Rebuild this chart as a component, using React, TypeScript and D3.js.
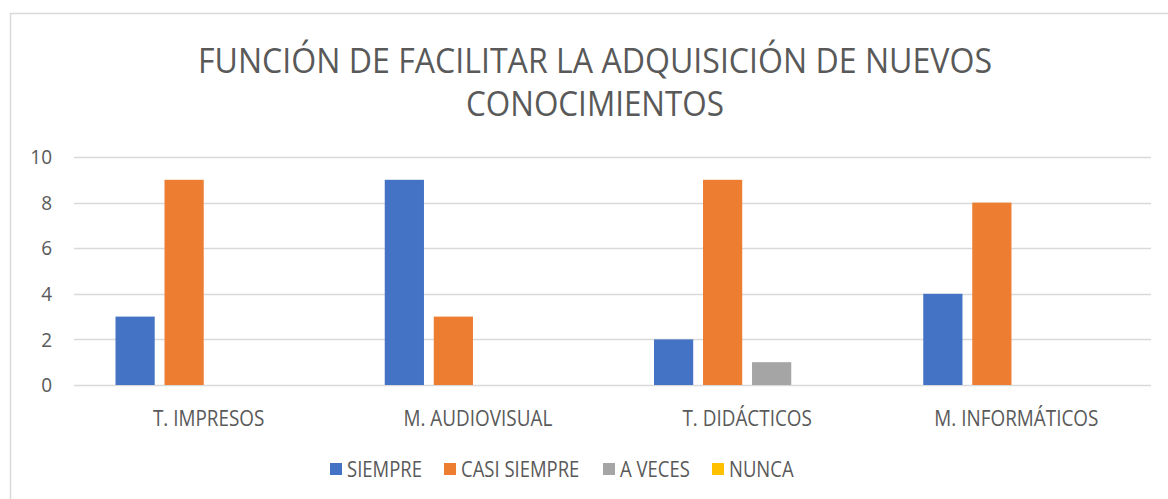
import React from 'react'
import * as d3 from 'd3'

const categories = ['T. IMPRESOS', 'M. AUDIOVISUAL', 'T. DIDÁCTICOS', 'M. INFORMÁTICOS']
const seriesNames = ['SIEMPRE', 'CASI SIEMPRE', 'A VECES', 'NUNCA']
const siempre = [3, 9, 2, 4]
const casiSiempre = [9, 3, 9, 8]
const aVeces = [0, 0, 1, 0]
const nunca = [0, 0, 0, 0]
const yTicks = [0, 2, 4, 6, 8, 10]
const titleLines = ['FUNCIÓN DE FACILITAR LA ADQUISICIÓN DE NUEVOS', 'CONOCIMIENTOS']

const colors = ['#4472C4', '#ED7D31', '#A5A5A5', '#FFC000']
const textColor = '#595959'
const font = '"Open Sans", sans-serif'

const W = 1168
const H = 499

export default function App() {
  const values = [siempre, casiSiempre, aVeces, nunca]

  const x0 = d3.scaleBand<string>().domain(categories).range([74, 1151]).padding(0)
  const bw = x0.bandwidth()
  const x1 = d3.scaleBand<string>()
    .domain(seriesNames)
    .range([41.5, bw - 41.5])
    .paddingInner(0.2)
    .paddingOuter(0)
  const y = d3.scaleLinear().domain([0, 10]).range([385, 157])

  // legend item positions (Excel-style, left to right)
  const legendX = [330, 444, 603, 712]

  return (
    <div style={{ position: 'absolute', left: 0, top: 0 }}>
      <svg width={W} height={H} style={{ display: 'block', background: '#fff' }}>
        <rect x={10.5} y={13.5} width={W + 20} height={H + 20} fill="#fff" stroke="#d9d9d9" strokeWidth={1.5} />

        {titleLines.map((t, i) => (
          <text key={t} x={595} y={73 + i * 43} textAnchor="middle" fontFamily={font}
            fontSize={34} fill={textColor}
            textLength={i === 0 ? 794 : 258} lengthAdjust="spacingAndGlyphs">
            {t}
          </text>
        ))}

        {yTicks.map(t => (
          <g key={t}>
            <line x1={74} x2={1151} y1={Math.round(y(t)) + 0.5} y2={Math.round(y(t)) + 0.5} stroke="#d9d9d9" strokeWidth={1.5} />
            <text transform={`translate(52,${y(t)}) scale(0.95,1)`} dy="0.36em" textAnchor="end"
              fontFamily={font} fontSize={20} fill={textColor}>{t}</text>
          </g>
        ))}

        {categories.map((c, ci) => (
          <g key={c} transform={`translate(${x0(c)},0)`}>
            {seriesNames.map((s, si) => {
              const v = values[si][ci]
              if (!v) return null
              return (
                <rect key={s} x={x1(s)} y={y(v)} width={x1.bandwidth()} height={y(0) - y(v)} fill={colors[si]} />
              )
            })}
            <text transform={`translate(${bw / 2},426) scale(0.9,1)`} textAnchor="middle"
              fontFamily={font} fontSize={21} fill={textColor}>{c}</text>
          </g>
        ))}

        {seriesNames.map((s, i) => (
          <g key={s} transform={`translate(${legendX[i]},0)`}>
            <rect x={0} y={463} width={12} height={12} fill={colors[i]} />
            <text transform="translate(17,477) scale(0.88,1)" fontFamily={font} fontSize={21} fill={textColor}>{s}</text>
          </g>
        ))}
      </svg>
    </div>
  )
}
